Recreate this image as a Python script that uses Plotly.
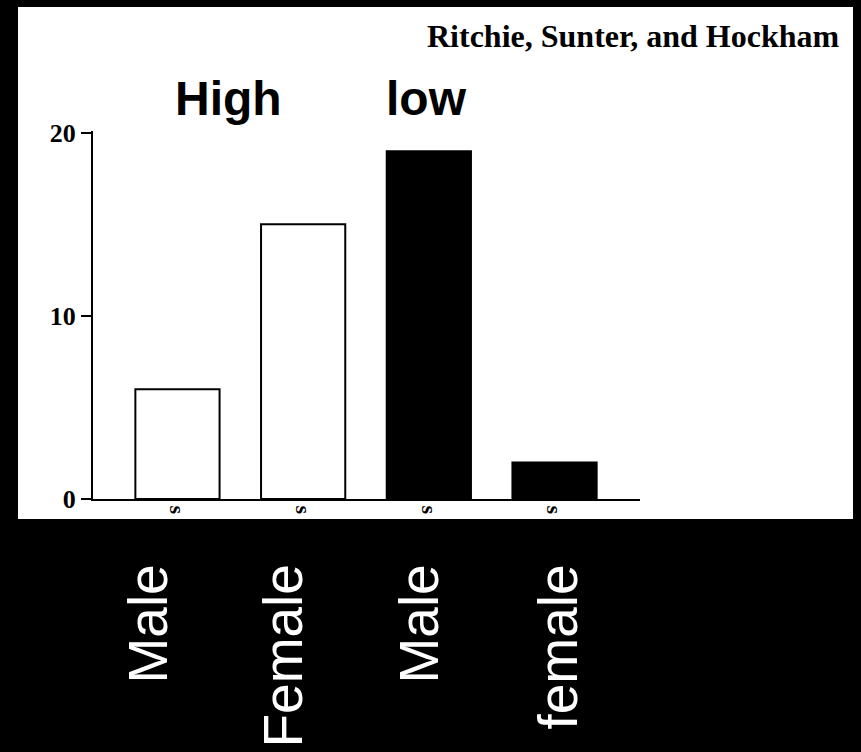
import plotly.graph_objects as go

# ---- data ----
categories = [0, 1, 2, 3]
groups = ["High", "High", "low", "low"]
values = [6, 15, 19, 2]
sex_labels = ["Male", "Female", "Male", "female"]
tick_marks = ["s", "s", "s", "s"]
y_ticks = [0, 10, 20]
group_names = ["High", "low"]
source_text = "Ritchie, Sunter, and Hockham"

W, H = 861, 752

def px(x):
    return x / W

def py(y):
    return (H - y) / H

fill = {"High": "white", "low": "black"}

fig = go.Figure()
fig.add_trace(go.Bar(
    x=categories,
    y=values,
    width=0.67,
    marker=dict(color=[fill[g] for g in groups],
                line=dict(color="black", width=2)),
    showlegend=False,
    hoverinfo="y",
))

# white page area
fig.add_shape(type="rect", xref="paper", yref="paper",
              x0=px(18), x1=px(853), y0=py(519), y1=py(7),
              fillcolor="white", line=dict(width=0), layer="below")

annotations = []
annotations.append(dict(
    text=source_text, xref="paper", yref="paper",
    x=px(633), y=py(36.5), xanchor="center", yanchor="middle",
    showarrow=False,
    font=dict(family="Liberation Serif", size=32, color="black", weight="bold"),
))
for name, cx in zip(group_names, [228, 426]):
    annotations.append(dict(
        text=name, xref="paper", yref="paper",
        x=px(cx), y=py(98.5), xanchor="center", yanchor="middle",
        showarrow=False,
        font=dict(family="Liberation Sans", size=48, color="black", weight="bold"),
    ))
for lab, cx in zip(sex_labels, [147, 282, 418, 557]):
    annotations.append(dict(
        text=lab, xref="paper", yref="paper",
        x=px(cx), y=py(563), xanchor="center", yanchor="top",
        textangle=-90, showarrow=False,
        font=dict(family="Liberation Sans", size=55, color="white"),
    ))

fig.update_layout(
    template="none",
    width=W, height=H,
    margin=dict(l=0, r=0, t=0, b=0, pad=0, autoexpand=False),
    paper_bgcolor="black",
    plot_bgcolor="rgba(0,0,0,0)",
    annotations=annotations,
    xaxis=dict(
        domain=[px(93), px(640)],
        range=[-0.672, 3.68],
        automargin=False,
        tickmode="array", tickvals=categories, ticktext=tick_marks,
        tickangle=90,
        tickfont=dict(family="Liberation Serif", size=22, color="black", weight="bold"),
        ticks="", showgrid=False, zeroline=False,
        showline=True, linecolor="black", linewidth=2,
        fixedrange=True,
    ),
    yaxis=dict(
        domain=[py(499), py(131)],
        range=[0, 20.1],
        automargin=False,
        tickmode="array", tickvals=y_ticks,
        ticktext=[str(v) for v in y_ticks],
        tickfont=dict(family="Liberation Serif", size=26, color="black", weight="bold"),
        ticks="outside", ticklen=10, tickwidth=2, tickcolor="black",
        showgrid=False, zeroline=False,
        showline=True, linecolor="black", linewidth=2,
        fixedrange=True,
    ),
)

fig.write_html(
    "out.html",
    config={"displayModeBar": False},
    post_script="document.body.style.margin='0';document.body.style.background='black';",
)
